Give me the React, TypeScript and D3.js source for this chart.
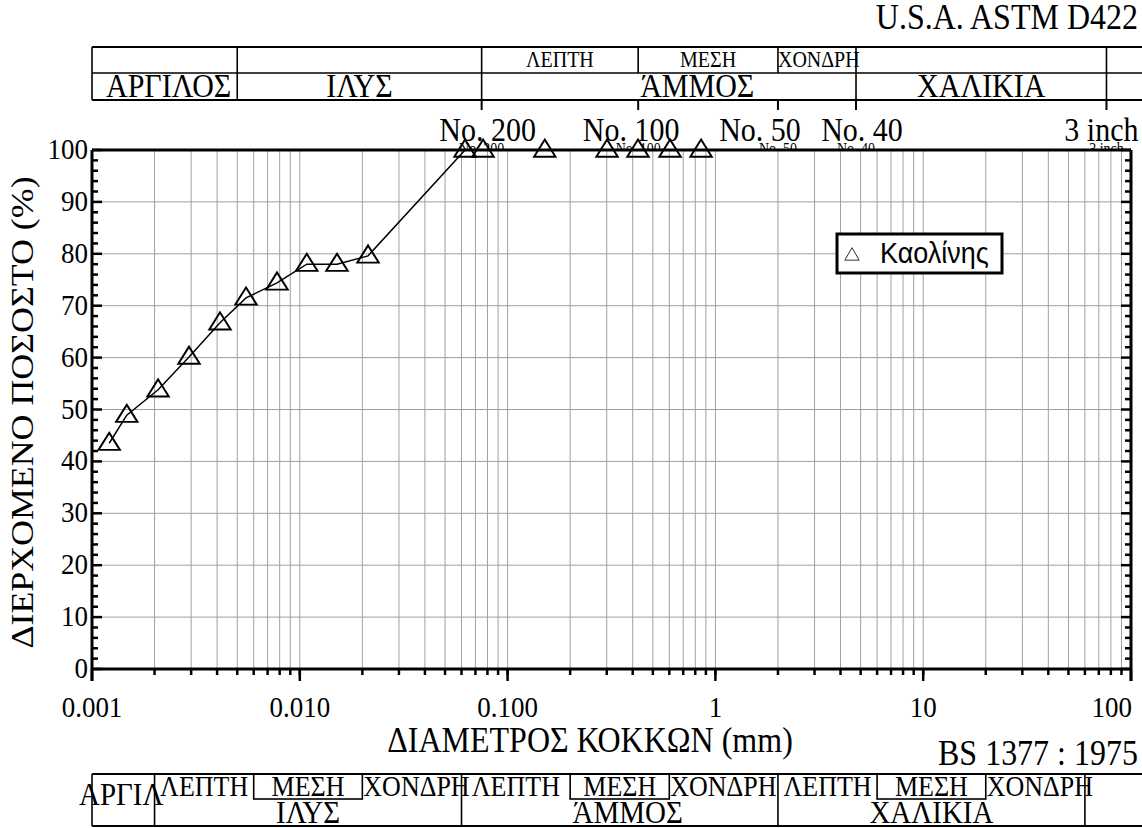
import React from "react";
import * as d3 from "d3";

// Grain-size distribution (kaolinite)
const diameters = [0.00121, 0.00147, 0.00208, 0.00293, 0.00413, 0.00551, 0.00777, 0.0108, 0.0151, 0.0213, 0.0624, 0.0762, 0.151, 0.301, 0.424, 0.605, 0.853];
const passing = [43.5, 48.9, 53.8, 60.1, 66.7, 71.5, 74.4, 78.0, 78.0, 79.6, 100, 100, 100, 100, 100, 100, 100];
const seriesName = "Καολίνης";

const xTickValues = [0.001, 0.01, 0.1, 1, 10, 100];
const xTickLabels = ["0.001", "0.010", "0.100", "1", "10", "100"];
const yTickValues = [0, 10, 20, 30, 40, 50, 60, 70, 80, 90, 100];

// Sieve marks (ASTM boundaries)
const sieveSizes = [0.075, 0.425, 2.0, 4.75, 76.2];
const sieveLabels = ["No. 200", "No. 100", "No. 50", "No. 40", "3 inch"];
const sieveLabelShift = [6, -7, -18, 6, 32];
const sieveLabelAnchor = ["middle", "middle", "middle", "middle", "end"];

// ASTM D422 classification bands
const astmClayLimit = 0.005;
const astmSandLimits = [0.075, 0.425, 2.0, 4.75];
const astmGravelLimit = 76.2;

// BS 1377 : 1975 classification bands
const bsBounds = [0.001, 0.002, 0.006, 0.02, 0.06, 0.2, 0.6, 2, 6, 20, 60];
const bsSubLabels = ["ΛΕΠΤΗ", "ΜΕΣΗ", "ΧΟΝΔΡΗ"];
const bsMainLabels = ["ΙΛΥΣ", "ΆΜΜΟΣ", "ΧΑΛΙΚΙΑ"];

const W = 1142;
const H = 828;
const SERIF = "'Liberation Serif', 'Times New Roman', serif";
const SANS = "'Liberation Sans', Arial, sans-serif";
const STRETCH = 1.12; // glyphs are drawn slightly tall

type TProps = {
  x: number;
  y: number;
  size: number;
  anchor?: string;
  family?: string;
  dy?: string;
  children: React.ReactNode;
};

function T({ x, y, size, anchor = "start", family = SERIF, dy, children }: TProps) {
  return (
    <text
      transform={`translate(${x},${y}) scale(1,${STRETCH})`}
      textAnchor={anchor}
      fontFamily={family}
      fontSize={size}
      dy={dy}
      fill="#000"
    >
      {children}
    </text>
  );
}

export default function App() {
  const x = d3.scaleLog().domain([0.001, 100]).range([92, 1131]);
  const y = d3.scaleLinear().domain([0, 100]).range([669, 150]);
  const [x0, x1] = x.range();
  const [yb, yt] = y.range();

  // minor grid positions 1..9 per decade
  const gridX: number[] = [];
  for (let e = -3; e < 2; e++) {
    for (let d = 1; d <= 9; d++) {
      const v = d * Math.pow(10, e);
      if (v > 0.001 && v < 100) gridX.push(v);
    }
  }
  const gridY = d3.range(10, 100, 10);
  const minorY = d3.range(2, 100, 2).filter((v) => v % 10 !== 0);

  const pts = diameters.map((dd, i) => [x(dd), y(passing[i])] as [number, number]);
  const line = d3.line<[number, number]>()(pts) || "";
  const tri = d3.symbol().type(d3.symbolTriangle).size(200)() || "";
  const triSmall = d3.symbol().type(d3.symbolTriangle).size(90)() || "";

  // ASTM table geometry
  const tTop = 47, tMid = 73, tBot = 100;
  const xClay = x(astmClayLimit);
  const [sF, sM, sC, sG] = astmSandLimits.map((v) => x(v));
  const xGrav = x(astmGravelLimit);

  // BS table geometry
  const bTop = 774, bMid = 799, bBot = 826;
  const bx = bsBounds.map((v) => x(v));

  return (
    <svg width={W} height={H} style={{ display: "block", position: "absolute", left: 0, top: 0, background: "#fff" }}>
      <defs>
        <clipPath id="aboveFrame">
          <rect x={0} y={0} width={W} height={yt - 1} />
        </clipPath>
      </defs>
      <rect x={0} y={0} width={W} height={H} fill="#fff" />

      {/* standard titles */}
      <T x={1138} y={29} size={32} anchor="end">U.S.A. ASTM D422</T>
      <T x={1138} y={765} size={32} anchor="end">BS 1377 : 1975</T>

      {/* ASTM table */}
      <g stroke="#000" strokeWidth={1.6} fill="none">
        <line x1={x0} x2={W} y1={tTop} y2={tTop} strokeWidth={2} />
        <line x1={x0} x2={W} y1={tMid} y2={tMid} />
        <line x1={x0} x2={W} y1={tBot} y2={tBot} strokeWidth={2} />
        {[x0, xClay, sF, sG, xGrav].map((v, i) => (
          <line key={"fv" + i} x1={v} x2={v} y1={tTop} y2={tBot} />
        ))}
        {[sM, sC].map((v, i) => (
          <line key={"uv" + i} x1={v} x2={v} y1={tTop} y2={tMid} />
        ))}
        {[sF, sM, sC, sG, xGrav].map((v, i) => (
          <line key={"tk" + i} x1={v} x2={v} y1={tBot} y2={tBot + 10} strokeWidth={2} />
        ))}
      </g>
      <T x={(sF + sM) / 2} y={67} size={20} anchor="middle">ΛΕΠΤΗ</T>
      <T x={(sM + sC) / 2} y={67} size={20} anchor="middle">ΜΕΣΗ</T>
      <T x={sC} y={67} size={20}>ΧΟΝΔΡΗ</T>
      <T x={(x0 + xClay) / 2 + 4} y={97} size={30} anchor="middle">ΑΡΓΙΛΟΣ</T>
      <T x={(xClay + sF) / 2} y={97} size={30} anchor="middle">ΙΛΥΣ</T>
      <T x={sM + 2} y={97} size={30}>ΆΜΜΟΣ</T>
      <T x={(sG + xGrav) / 2} y={97} size={30} anchor="middle">ΧΑΛΙΚΙΑ</T>

      {/* sieve labels */}
      {sieveSizes.map((s, i) => (
        <T key={"sl" + i} x={x(s) + sieveLabelShift[i]} y={141} size={30} anchor={sieveLabelAnchor[i]}>
          {sieveLabels[i]}
        </T>
      ))}
      <g clipPath="url(#aboveFrame)">
        {sieveSizes.map((s, i) => (
          <T key={"ss" + i} x={x(s)} y={154} size={14} anchor="middle">
            {sieveLabels[i]}
          </T>
        ))}
      </g>

      {/* grid */}
      <g stroke="#a0a0a0" strokeWidth={1}>
        {gridX.map((v, i) => (
          <line key={"gx" + i} x1={x(v)} x2={x(v)} y1={yt} y2={yb} />
        ))}
        {gridY.map((v, i) => (
          <line key={"gy" + i} x1={x0} x2={x1} y1={y(v)} y2={y(v)} />
        ))}
      </g>

      {/* axis ticks */}
      <g stroke="#000" strokeWidth={2.5}>
        {gridX.map((v, i) => (
          <line key={"xt" + i} x1={x(v)} x2={x(v)} y1={yb} y2={yb + 6} />
        ))}
        {xTickValues.map((v, i) => (
          <line key={"xm" + i} x1={x(v)} x2={x(v)} y1={yb} y2={yb + 12} />
        ))}
        {minorY.map((v, i) => (
          <g key={"ym" + i}>
            <line x1={x0} x2={x0 + 6} y1={y(v)} y2={y(v)} />
            <line x1={x1} x2={x1 - 6} y1={y(v)} y2={y(v)} />
          </g>
        ))}
        {yTickValues.map((v, i) => (
          <g key={"yM" + i}>
            <line x1={x0} x2={x0 + 10} y1={y(v)} y2={y(v)} />
            <line x1={x1} x2={x1 - 10} y1={y(v)} y2={y(v)} />
          </g>
        ))}
      </g>

      {/* frame */}
      <g stroke="#000" strokeWidth={3} fill="none">
        <line x1={x0} x2={x1} y1={yt} y2={yt} />
        <line x1={x0} x2={x1} y1={yb} y2={yb} />
        <line x1={x0} x2={x0} y1={yt} y2={yb + 12} />
        <line x1={x1} x2={x1} y1={yt} y2={yb + 12} />
      </g>

      {/* tick labels */}
      {yTickValues.map((v, i) => (
        <T key={"yl" + i} x={x0 - 4} y={y(v) + 9} size={27} anchor="end">{v}</T>
      ))}
      {xTickValues.map((v, i) => (
        <T key={"xl" + i} x={i === xTickValues.length - 1 ? x(v) + 1 : x(v)} y={717} size={27}
          anchor={i === xTickValues.length - 1 ? "end" : "middle"}>
          {xTickLabels[i]}
        </T>
      ))}

      {/* axis titles */}
      <T x={590} y={752} size={32} anchor="middle">ΔΙΑΜΕΤΡΟΣ ΚΟΚΚΩΝ (mm)</T>
      <text
        transform={`translate(33, ${(yt + yb) / 2 + 3}) rotate(-90) scale(${STRETCH},1)`}
        textAnchor="middle"
        fontFamily={SERIF}
        fontSize={32}
        fill="#000"
      >
        ΔΙΕΡΧΟΜΕΝΟ ΠΟΣΟΣΤΟ (%)
      </text>

      {/* data */}
      <path d={line} fill="none" stroke="#000" strokeWidth={1.5} />
      {pts.map(([px, py], i) => (
        <path key={"p" + i} d={tri} transform={`translate(${px},${py + 1}) scale(1,0.92)`} fill="none" stroke="#000" strokeWidth={2} />
      ))}

      {/* legend */}
      <g>
        <rect x={837} y={234} width={165} height={39} fill="#fff" stroke="#000" strokeWidth={3} />
        <path d={triSmall} transform="translate(852,256)" fill="none" stroke="#333" strokeWidth={1} />
        <T x={880} y={263} size={27} family={SANS}>{seriesName}</T>
      </g>

      {/* BS table */}
      <g stroke="#000" strokeWidth={1.6} fill="none">
        <line x1={bx[0]} x2={W} y1={bTop} y2={bTop} strokeWidth={2} />
        <line x1={bx[0]} x2={W} y1={bBot} y2={bBot} strokeWidth={2} />
        {[0, 1, 4, 7, 10].map((k) => (
          <line key={"bv" + k} x1={bx[k]} x2={bx[k]} y1={bTop} y2={bBot} />
        ))}
        {[2, 5, 8].map((k) => (
          <rect key={"bm" + k} x={bx[k]} y={bTop} width={bx[k + 1] - bx[k]} height={bMid - bTop} />
        ))}
      </g>
      <T x={(bx[0] + bx[1]) / 2 - 2} y={805} size={29} anchor="middle">ΑΡΓΙΛ</T>
      {[1, 4, 7].map((k, gi) => (
        <g key={"bg" + k}>
          <T x={(bx[k] + bx[k + 1]) / 2} y={796} size={26} anchor="middle">{bsSubLabels[0]}</T>
          <T x={(bx[k + 1] + bx[k + 2]) / 2} y={796} size={26} anchor="middle">{bsSubLabels[1]}</T>
          <T x={bx[k + 2] + 1} y={796} size={26}>{bsSubLabels[2]}</T>
          <T x={(bx[k] + bx[k + 3]) / 2 + (gi === 1 ? 8 : 0)} y={823} size={29} anchor="middle">{bsMainLabels[gi]}</T>
        </g>
      ))}
    </svg>
  );
}
